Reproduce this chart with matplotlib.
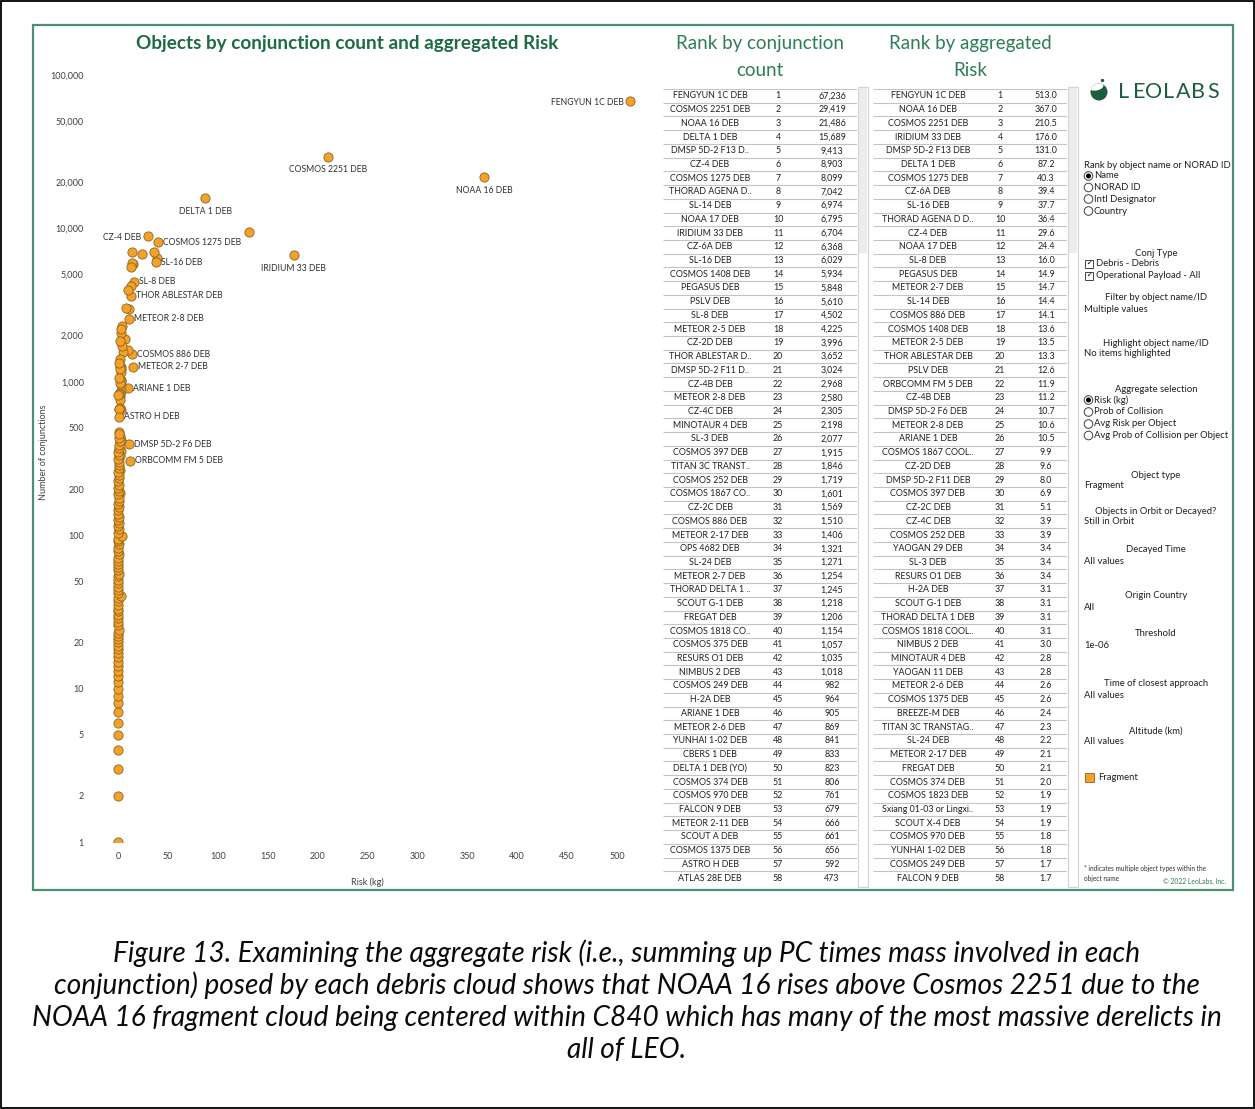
import matplotlib
matplotlib.use("Agg")
import matplotlib.pyplot as plt
from matplotlib.patches import Rectangle, Circle, Ellipse
from matplotlib.ticker import FixedLocator, FuncFormatter, NullLocator

plt.rcParams['font.family'] = ['Lato', 'DejaVu Sans']

# ranking by number of conjunctions
count_names = ["FENGYUN 1C DEB", "COSMOS 2251 DEB", "NOAA 16 DEB", "DELTA 1 DEB", "DMSP 5D-2 F13 D..",
               "CZ-4 DEB", "COSMOS 1275 DEB", "THORAD AGENA D..", "SL-14 DEB", "NOAA 17 DEB",
               "IRIDIUM 33 DEB", "CZ-6A DEB", "SL-16 DEB", "COSMOS 1408 DEB", "PEGASUS DEB",
               "PSLV DEB", "SL-8 DEB", "METEOR 2-5 DEB", "CZ-2D DEB", "THOR ABLESTAR D..",
               "DMSP 5D-2 F11 D..", "CZ-4B DEB", "METEOR 2-8 DEB", "CZ-4C DEB", "MINOTAUR 4 DEB",
               "SL-3 DEB", "COSMOS 397 DEB", "TITAN 3C TRANST..", "COSMOS 252 DEB", "COSMOS 1867 CO..",
               "CZ-2C DEB", "COSMOS 886 DEB", "METEOR 2-17 DEB", "OPS 4682 DEB", "SL-24 DEB",
               "METEOR 2-7 DEB", "THORAD DELTA 1 ..", "SCOUT G-1 DEB", "FREGAT DEB", "COSMOS 1818 CO..",
               "COSMOS 375 DEB", "RESURS O1 DEB", "NIMBUS 2 DEB", "COSMOS 249 DEB", "H-2A DEB",
               "ARIANE 1 DEB", "METEOR 2-6 DEB", "YUNHAI 1-02 DEB", "CBERS 1 DEB", "DELTA 1 DEB (YO)",
               "COSMOS 374 DEB", "COSMOS 970 DEB", "FALCON 9 DEB", "METEOR 2-11 DEB", "SCOUT A DEB",
               "COSMOS 1375 DEB", "ASTRO H DEB", "ATLAS 28E DEB"]
count_values = [67236, 29419, 21486, 15689, 9413, 8903, 8099, 7042, 6974, 6795,
                6704, 6368, 6029, 5934, 5848, 5610, 4502, 4225, 3996, 3652,
                3024, 2968, 2580, 2305, 2198, 2077, 1915, 1846, 1719, 1601,
                1569, 1510, 1406, 1321, 1271, 1254, 1245, 1218, 1206, 1154,
                1057, 1035, 1018, 982, 964, 905, 869, 841, 833, 823,
                806, 761, 679, 666, 661, 656, 592, 473]

# ranking by aggregated risk (kg)
risk_names = ["FENGYUN 1C DEB", "NOAA 16 DEB", "COSMOS 2251 DEB", "IRIDIUM 33 DEB", "DMSP 5D-2 F13 DEB",
              "DELTA 1 DEB", "COSMOS 1275 DEB", "CZ-6A DEB", "SL-16 DEB", "THORAD AGENA D D..",
              "CZ-4 DEB", "NOAA 17 DEB", "SL-8 DEB", "PEGASUS DEB", "METEOR 2-7 DEB",
              "SL-14 DEB", "COSMOS 886 DEB", "COSMOS 1408 DEB", "METEOR 2-5 DEB", "THOR ABLESTAR DEB",
              "PSLV DEB", "ORBCOMM FM 5 DEB", "CZ-4B DEB", "DMSP 5D-2 F6 DEB", "METEOR 2-8 DEB",
              "ARIANE 1 DEB", "COSMOS 1867 COOL..", "CZ-2D DEB", "DMSP 5D-2 F11 DEB", "COSMOS 397 DEB",
              "CZ-2C DEB", "CZ-4C DEB", "COSMOS 252 DEB", "YAOGAN 29 DEB", "SL-3 DEB",
              "RESURS O1 DEB", "H-2A DEB", "SCOUT G-1 DEB", "THORAD DELTA 1 DEB", "COSMOS 1818 COOL..",
              "NIMBUS 2 DEB", "MINOTAUR 4 DEB", "YAOGAN 11 DEB", "METEOR 2-6 DEB", "COSMOS 1375 DEB",
              "BREEZE-M DEB", "TITAN 3C TRANSTAG..", "SL-24 DEB", "METEOR 2-17 DEB", "FREGAT DEB",
              "COSMOS 374 DEB", "COSMOS 1823 DEB", "Sxiang 01-03 or Lingxi..", "SCOUT X-4 DEB", "COSMOS 970 DEB",
              "YUNHAI 1-02 DEB", "COSMOS 249 DEB", "FALCON 9 DEB"]
risk_values = [513.0, 367.0, 210.5, 176.0, 131.0, 87.2, 40.3, 39.4, 37.7, 36.4,
               29.6, 24.4, 16.0, 14.9, 14.7, 14.4, 14.1, 13.6, 13.5, 13.3,
               12.6, 11.9, 11.2, 10.7, 10.6, 10.5, 9.9, 9.6, 8.0, 6.9,
               5.1, 3.9, 3.9, 3.4, 3.4, 3.4, 3.1, 3.1, 3.1, 3.1,
               3.0, 2.8, 2.8, 2.6, 2.6, 2.4, 2.3, 2.2, 2.1, 2.1,
               2.0, 1.9, 1.9, 1.9, 1.8, 1.8, 1.7, 1.7]

# objects that show up in only one of the two rankings
extra_count = {"ORBCOMM FM 5 DEB": 305, "DMSP 5D-2 F6 DEB": 393, "YAOGAN 29 DEB": 352,
               "YAOGAN 11 DEB": 418, "BREEZE-M DEB": 265, "COSMOS 1823 DEB": 440,
               "Sxiang 01-03 or Lingxi..": 188, "SCOUT X-4 DEB": 330}
extra_risk = {"OPS 4682 DEB": 1.4, "COSMOS 375 DEB": 1.1, "CBERS 1 DEB": 0.9,
              "DELTA 1 DEB (YO)": 0.3, "METEOR 2-11 DEB": 1.2, "SCOUT A DEB": 0.7,
              "ASTRO H DEB": 0.5, "ATLAS 28E DEB": 1.0}

# remaining fragment clouds (low risk, few conjunctions)
tail_count = [1, 2, 3, 4, 5, 6, 7, 8, 9, 10,
              11, 12, 13, 14, 15, 16, 17, 18, 19, 20,
              21, 22, 23, 24, 26, 27, 29, 30, 32, 33,
              35, 37, 39, 40, 42, 44, 46, 49, 51, 54,
              56, 59, 62, 65, 68, 71, 75, 79, 83, 87,
              91, 95, 99, 104, 109, 114, 120, 126, 132, 138,
              145, 152, 160, 168, 176, 185, 194, 204, 214, 225,
              236, 248, 260, 273, 287, 300, 316, 334, 350, 370,
              390, 410, 430, 455]
tail_risk = [0.1, 0.1, 0.2, 0.1, 0.2, 0.1, 0.2, 0.1, 0.2, 0.3,
             0.1, 0.2, 0.2, 0.1, 0.3, 0.2, 0.1, 0.2, 0.4, 0.2,
             0.1, 0.3, 0.2, 1.4, 0.2, 0.1, 0.3, 0.2, 0.2, 0.1,
             0.4, 0.2, 0.3, 3.1, 0.2, 0.1, 0.4, 0.3, 0.2, 0.1,
             0.5, 0.2, 0.3, 0.1, 0.4, 0.2, 0.6, 0.3, 0.2, 0.5,
             0.1, 0.4, 3.6, 0.3, 0.6, 0.2, 0.5, 0.3, 0.7, 0.4,
             0.2, 0.6, 0.3, 0.8, 0.5, 0.2, 0.9, 0.4, 0.6, 0.3,
             1.0, 0.5, 0.2, 0.8, 0.6, 1.2, 0.4, 0.9, 0.3, 1.1,
             0.7, 1.5, 0.5, 1.3]

# labelled points and where the label sits
labelled = [("FENGYUN 1C DEB", "left"), ("COSMOS 2251 DEB", "below"), ("NOAA 16 DEB", "below"),
            ("DELTA 1 DEB", "below"), ("CZ-4 DEB", "left"), ("COSMOS 1275 DEB", "right"),
            ("SL-16 DEB", "right"), ("IRIDIUM 33 DEB", "below"), ("SL-8 DEB", "right"),
            ("THOR ABLESTAR DEB", "right"), ("METEOR 2-8 DEB", "right"), ("COSMOS 886 DEB", "right"),
            ("METEOR 2-7 DEB", "right"), ("ARIANE 1 DEB", "right"), ("ASTRO H DEB", "right"),
            ("DMSP 5D-2 F6 DEB", "right"), ("ORBCOMM FM 5 DEB", "right")]

caption = ["Figure 13. Examining the aggregate risk (i.e., summing up PC times mass involved in each",
           "conjunction) posed by each debris cloud shows that NOAA 16 rises above Cosmos 2251 due to the",
           "NOAA 16 fragment cloud being centered within C840 which has many of the most massive derelicts in",
           "all of LEO."]

ORANGE = '#F4A12A'
ORANGE_EDGE = '#8a6424'
GREEN = '#1d6b44'
GREEN_LIGHT = '#2f7d57'
FRAME = '#4a8f6e'

W, H = 1255, 1109


def same_object(a, b):
    # names in the tables get truncated with ".."
    if a == b:
        return True
    pa, pb = a.rstrip('.'), b.rstrip('.')
    if a.endswith('..') and pb.startswith(pa):
        return True
    if b.endswith('..') and pa.startswith(pb):
        return True
    return False


# merge both rankings into (risk, count) per object
points = {}
for name, r in zip(risk_names, risk_values):
    c = next((cv for cn, cv in zip(count_names, count_values) if same_object(cn, name)), None)
    points[name] = (r, c if c is not None else extra_count[name])
for name, c in zip(count_names, count_values):
    if not any(same_object(name, rn) for rn in risk_names):
        points[name] = (extra_risk[name], c)

xs = [p[0] for p in points.values()] + tail_risk
ys = [p[1] for p in points.values()] + tail_count


def px_axes(fig, x0, y0, x1, y1):
    return fig.add_axes([x0 / W, 1 - y1 / H, (x1 - x0) / W, (y1 - y0) / H])


fig = plt.figure(figsize=(W / 100, H / 100), dpi=100)

# background layer in pixel units for frames, headings and the filter panel
bg = fig.add_axes([0, 0, 1, 1])
bg.set_xlim(0, W)
bg.set_ylim(H, 0)
bg.axis('off')
bg.add_patch(Rectangle((1, 1), W - 2, H - 2, fill=False, ec='black', lw=1.3))
bg.add_patch(Rectangle((33, 25), 1200, 865, fill=False, ec=FRAME, lw=1.6))

bg.text(347, 43, "Objects by conjunction count and aggregated Risk", ha='center', va='center',
        fontsize=13.6, fontweight='bold', color=GREEN)
bg.text(760, 43, "Rank by conjunction", ha='center', va='center', fontsize=13.5, color=GREEN_LIGHT)
bg.text(760, 70, "count", ha='center', va='center', fontsize=13.5, color=GREEN_LIGHT)
bg.text(970, 43, "Rank by aggregated", ha='center', va='center', fontsize=13.5, color=GREEN_LIGHT)
bg.text(970, 70, "Risk", ha='center', va='center', fontsize=13.5, color=GREEN_LIGHT)

# ---- scatter ----
ax = px_axes(fig, 95, 70, 640, 842)
ax.set_facecolor('none')
ax.scatter(xs, ys, s=44, c=ORANGE, edgecolors=ORANGE_EDGE, linewidths=0.6, zorder=3)
ax.set_yscale('log')
ax.set_xlim(-23.05, 523.0)
ax.set_ylim(1, 10 ** (5 + 5 / 153.4))
ax.yaxis.set_major_locator(FixedLocator([1, 2, 5, 10, 20, 50, 100, 200, 500, 1000, 2000,
                                         5000, 10000, 20000, 50000, 100000]))
ax.yaxis.set_minor_locator(NullLocator())
ax.yaxis.set_major_formatter(FuncFormatter(lambda v, p: f"{v:,.0f}"))
ax.set_xticks([0, 50, 100, 150, 200, 250, 300, 350, 400, 450, 500])
ax.tick_params(axis='y', length=0, pad=8, labelsize=6.5, labelcolor='#404040')
ax.tick_params(axis='x', length=0, pad=7, labelsize=6.5, labelcolor='#404040')
for s in ax.spines.values():
    s.set_visible(False)
ax.set_xlabel("Risk (kg)", fontsize=6.5, color='#404040', labelpad=12)
bg.text(44, 452, "Number of conjunctions", rotation=90, ha='center', va='center',
        fontsize=6.5, color='#404040')

offsets = {"right": ((3.6, 0), 'left'), "left": ((-4.5, -1), 'right'), "below": ((0, -9.4), 'center')}
for name, side in labelled:
    (dx, dy), ha = offsets[side]
    ax.annotate(name, points[name], xytext=(dx, dy), textcoords='offset points',
                ha=ha, va='center', fontsize=6.2, color='#303030', zorder=4)


# ---- ranking tables ----
def draw_table(x0, x1, names, values, fmt, col_name, col_rank, col_val):
    t = px_axes(fig, x0, 89, x1, 885)
    t.set_facecolor('none')
    n = len(names)
    t.set_xlim(x0, x1)
    t.set_ylim(n + 0.5, 0.5)
    t.axis('off')
    for i, (nm, v) in enumerate(zip(names, values), start=1):
        t.text(col_name, i, nm, ha='center', va='center', fontsize=6.4, color='#202020')
        t.text(col_rank, i, str(i), ha='center', va='center', fontsize=6.4, color='#202020')
        t.text(col_val, i, fmt(v), ha='center', va='center', fontsize=6.4, color='#202020')
    t.hlines([k + 0.5 for k in range(n + 1)], x0, x1, colors='#c4c4c4', lw=0.8)


draw_table(663, 857, count_names, count_values, lambda v: f"{v:,}", 710, 778, 832)
draw_table(873, 1067, risk_names, risk_values, lambda v: f"{v:.1f}", 928, 1000, 1046)

# scroll bars beside each table
for sx in (858, 1068):
    bg.add_patch(Rectangle((sx, 87), 10, 800, fill=False, ec='#d2d2d2', lw=0.8))
    bg.add_patch(Rectangle((sx + 1, 88), 8, 165, fc='#ececec', ec='none'))

# ---- logo ----
logo = Circle((1099, 92), 8.5, fc='#1d5e3f', ec='none')
bg.add_patch(logo)
cut = Ellipse((1096, 86.5), 15, 8, angle=-10, fc='white', ec='none')
bg.add_patch(cut)
cut.set_clip_path(logo)
bg.add_patch(Circle((1102.5, 80.5), 1.7, fc='#1d5e3f', ec='none'))
for i, ch in enumerate("LEOLABS"):
    bg.text(1124 + i * 14.8, 92, ch, ha='center', va='center', fontsize=15.5, color='#1d5e3f')

# ---- filter panel ----
PX, HX = 1084, 1156
FS = 6.8


def heading(y, txt):
    bg.text(HX, y, txt, ha='center', va='center', fontsize=FS, color='#202020')


def value(y, txt):
    bg.text(PX, y, txt, ha='left', va='center', fontsize=FS, color='#202020')


def radio(y, txt, on=False):
    bg.add_patch(Circle((1088.5, y), 4.3, fc='white', ec='#404040', lw=0.7))
    if on:
        bg.add_patch(Circle((1088.5, y), 2.5, fc='black', ec='none'))
    bg.text(1094, y, txt, ha='left', va='center', fontsize=FS, color='#202020')


def check(y, txt):
    bg.add_patch(Rectangle((1084.5, y - 4.5), 8.5, 8.5, fill=False, ec='#404040', lw=0.7))
    bg.text(1088.8, y - 0.3, '\u2714', ha='center', va='center', fontsize=4.5,
            family='DejaVu Sans', color='#202020')
    bg.text(1095.5, y, txt, ha='left', va='center', fontsize=FS, color='#202020')


value(165, "Rank by object name or NORAD ID")
radio(176, "Name", on=True)
radio(187.5, "NORAD ID")
radio(199, "Intl Designator")
radio(211, "Country")

heading(253, "Conj Type")
check(264, "Debris - Debris")
check(276, "Operational Payload - All")

heading(298, "Filter by object name/ID")
value(310, "Multiple values")
heading(343, "Highlight object name/ID")
value(354, "No items highlighted")

heading(389, "Aggregate selection")
radio(400, "Risk (kg)", on=True)
radio(412, "Prob of Collision")
radio(424, "Avg Risk per Object")
radio(435.5, "Avg Prob of Collision per Object")

heading(475, "Object type")
value(486, "Fragment")
heading(512, "Objects in Orbit or Decayed?")
value(522, "Still in Orbit")
heading(549, "Decayed Time")
value(561, "All values")
heading(596, "Origin Country")
value(607, "All")
heading(633, "Threshold")
value(645, "1e-06")
heading(684, "Time of closest approach")
value(695, "All values")
heading(731, "Altitude (km)")
value(742, "All values")

bg.add_patch(Rectangle((1085, 772.5), 9, 9, fc=ORANGE, ec=ORANGE_EDGE, lw=0.6))
bg.text(1098, 777, "Fragment", ha='left', va='center', fontsize=FS, color='#202020')

bg.text(PX, 868, "* indicates multiple object types within the", ha='left', va='center',
        fontsize=4.7, color='#303030')
bg.text(PX, 879, "object name", ha='left', va='center', fontsize=4.7, color='#303030')
bg.text(1226, 881, "\u00a9 2022 LeoLabs, Inc.", ha='right', va='center', fontsize=4.9, color=GREEN_LIGHT)

# ---- caption ----
for k, line in enumerate(caption):
    bg.text(627, 953 + k * 32.3, line, ha='center', va='center', fontsize=20.2,
            style='italic', color='#0a0a0a')

fig.savefig('out.png', dpi=100)
